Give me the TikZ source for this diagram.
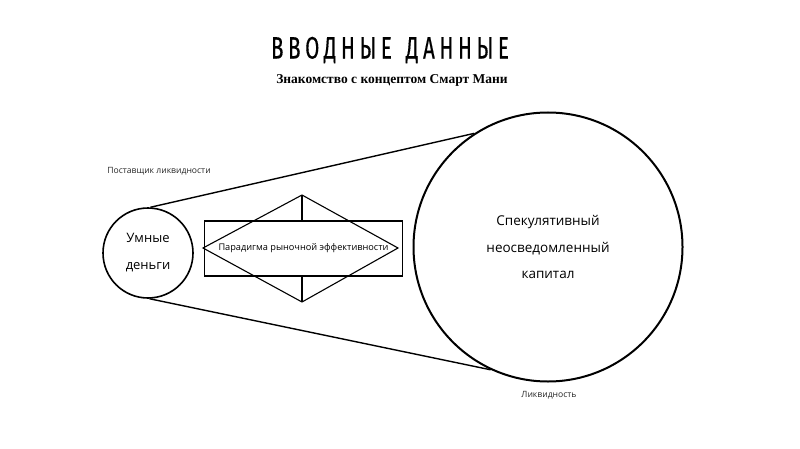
\documentclass[tikz,border=0pt]{standalone}
\usepackage{fontspec}
\setmainfont{Open Sans}
\newfontfamily\titlefont[FakeStretch=0.66,LetterSpace=15,FakeBold=0.35]{Fira Sans}
\newfontfamily\subfont{Liberation Serif}
\tikzset{
  ring/.style={circle, draw, line width=1.6pt, inner sep=0pt, align=center},
  edge/.style={line width=1.4pt},
  thin/.style={line width=1.1pt},
  small/.style={font=\fontsize{8.6}{10}\selectfont, text=black!85},
}
\begin{document}
\begin{tikzpicture}[x=1pt,y=1pt]
\useasboundingbox[fill=white] (0,0) rectangle (800,448);
% titles
\node (title) at (390,398) {\titlefont\fontsize{31}{34}\selectfont ВВОДНЫЕ\hspace{4pt} ДАННЫЕ};
\node (sub) at (392,368) {\subfont\bfseries\fontsize{13.5}{16}\selectfont Знакомство с концептом Смарт Мани};
% circles
\node[ring, minimum size=90pt, font=\fontsize{13}{27}\selectfont] (smart) at (148,195) {Умные\\деньги};
\node[ring, line width=2pt, minimum size=269pt, font=\fontsize{13.5}{26.5}\selectfont] (big) at (548,201) {Спекулятивный\\неосведомленный\\капитал};
% connecting lines
\draw[edge] (smart.87) -- (big.123);
\draw[edge] (smart.272) -- (big.245);
% rectangle and diamond
\node[draw, thin, minimum width=198pt, minimum height=55pt, inner sep=0pt,
      font=\fontsize{9.2}{10}\selectfont] (para) at (303.5,199.5) {Парадигма рыночной эффективности};
\coordinate (dl) at (203,200);
\coordinate (dr) at (398,200);
\coordinate (dt) at (302,253);
\coordinate (db) at (302,146);
\draw[thin] (dl) -- (dt) -- (dr) -- (db) -- cycle;
\draw[thin] (dt) -- (dt |- para.north);
\draw[thin] (db) -- (db |- para.south);
% labels
\node[small] (prov) at (159,277) {Поставщик ликвидности};
\node[small] (liq) at (549,53) {Ликвидность};
\end{tikzpicture}
\end{document}
